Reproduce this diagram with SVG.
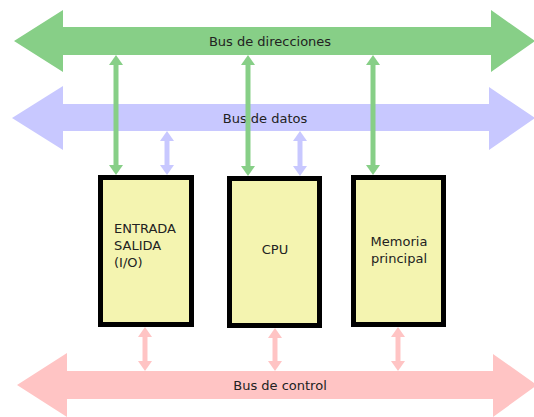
<svg xmlns="http://www.w3.org/2000/svg" width="534" height="417" viewBox="0 0 534 417">
  <style>
    .label { font-family: "DejaVu Sans", "Liberation Sans", sans-serif; font-size: 13px; fill: #222; }
    .mid { text-anchor: middle; }
    .box { fill: #f4f4b0; stroke: #000; stroke-width: 5; }
    .addr { fill: #87cf87; }
    .data { fill: #c8c8ff; }
    .ctrl { fill: #ffc4c4; }
    .link { stroke-width: 5; fill: none; }
    .link.addr { stroke: #87cf87; marker-start: url(#headG); marker-end: url(#headG); }
    .link.data { stroke: #c8c8ff; marker-start: url(#headB); marker-end: url(#headB); }
    .link.ctrl { stroke: #ffc4c4; marker-start: url(#headR); marker-end: url(#headR); }
  </style>
  <defs>
    <marker id="headG" markerUnits="userSpaceOnUse" markerWidth="10" markerHeight="14" refX="2" refY="7" orient="auto-start-reverse">
      <path d="M0,0 L10,7 L0,14 z" fill="#87cf87"/>
    </marker>
    <marker id="headB" markerUnits="userSpaceOnUse" markerWidth="10" markerHeight="14" refX="2" refY="7" orient="auto-start-reverse">
      <path d="M0,0 L10,7 L0,14 z" fill="#c8c8ff"/>
    </marker>
    <marker id="headR" markerUnits="userSpaceOnUse" markerWidth="10" markerHeight="14" refX="2" refY="7" orient="auto-start-reverse">
      <path d="M0,0 L10,7 L0,14 z" fill="#ffc4c4"/>
    </marker>
  </defs>

  <!-- address bus -->
  <g id="bus-direcciones">
    <polygon class="addr" points="14,41 63,10 63,27 491,27 491,10 535,41 491,72 491,55 63,55 63,72"/>
    <text class="label mid" x="270" y="46">Bus de direcciones</text>
  </g>

  <!-- data bus -->
  <g id="bus-datos">
    <polygon class="data" points="12,118 63,86 63,104 489,104 489,87 535,118 489,150 489,131 63,131 63,150"/>
    <text class="label mid" x="265" y="123">Bus de datos</text>
  </g>

  <!-- control bus -->
  <g id="bus-control">
    <polygon class="ctrl" points="17,385 67,353 67,371 493,371 493,354 537,385 493,417 493,399 67,399 67,417"/>
    <text class="label mid" x="280" y="390">Bus de control</text>
  </g>

  <!-- units -->
  <g id="io">
    <rect class="box" x="100.5" y="177.5" width="91" height="147"/>
    <text class="label" x="114" y="233">ENTRADA</text>
    <text class="label" x="114" y="250">SALIDA</text>
    <text class="label" x="114" y="267">(I/O)</text>
  </g>

  <g id="cpu">
    <rect class="box" x="229.5" y="178.5" width="90" height="147"/>
    <text class="label mid" x="275" y="254">CPU</text>
  </g>

  <g id="memoria">
    <rect class="box" x="353.5" y="177.5" width="90" height="147"/>
    <text class="label mid" x="399" y="246">Memoria</text>
    <text class="label mid" x="399" y="263">principal</text>
  </g>

  <!-- bus connections -->
  <g id="connectors">
    <line class="link addr" x1="116" y1="63" x2="116" y2="167"/>
    <line class="link addr" x1="248" y1="63" x2="248" y2="168"/>
    <line class="link addr" x1="373" y1="63" x2="373" y2="167"/>
    <line class="link data" x1="167" y1="139" x2="167" y2="167"/>
    <line class="link data" x1="300" y1="139" x2="300" y2="168"/>
    <line class="link ctrl" x1="145" y1="335" x2="145" y2="363"/>
    <line class="link ctrl" x1="275" y1="336" x2="275" y2="363"/>
    <line class="link ctrl" x1="398" y1="335" x2="398" y2="363"/>
  </g>
</svg>
